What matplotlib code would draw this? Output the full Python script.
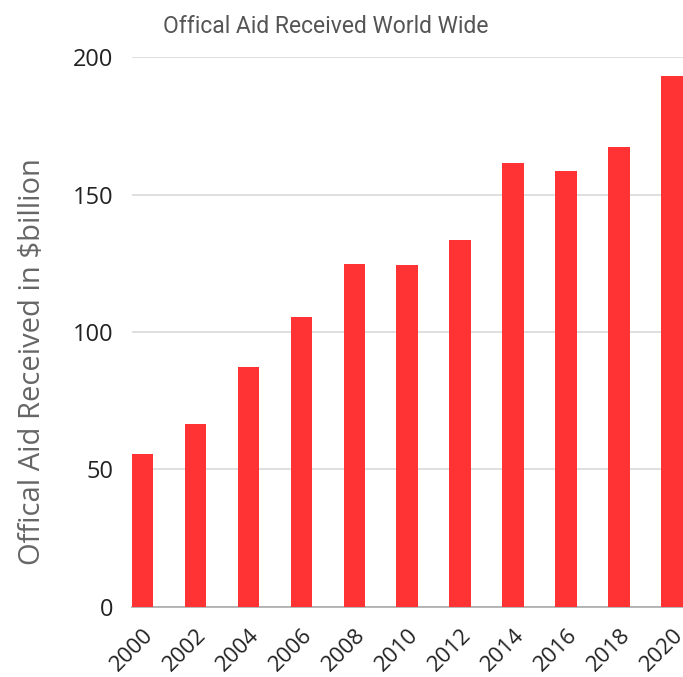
import matplotlib
matplotlib.use("Agg")
import matplotlib.pyplot as plt
import matplotlib.transforms as mtransforms

years = ["2000", "2002", "2004", "2006", "2008", "2010", "2012", "2014", "2016", "2018", "2020"]
aid = [55.5, 66.4, 87.1, 105.5, 124.7, 124.5, 133.3, 161.4, 158.6, 167.2, 193.2]
yticks = [0, 50, 100, 150, 200]

plt.rcParams['font.family'] = ['Open Sans', 'DejaVu Sans']

fig = plt.figure(figsize=(6.83, 6.77), dpi=100)
ax = fig.add_axes([131.7/683, 1-606.7/677, (683-131.7)/683, (606.7-57.1)/677])

x = list(range(len(years)))
ax.bar(x, aid, width=0.41, color='#FF3333', zorder=3)
ax.set_xlim(-0.205, len(years) - 1 + 0.205)
ax.set_ylim(0, 200)
ax.set_yticks(yticks)
ax.set_yticklabels([str(v) for v in yticks], fontsize=17, color='#222222')
ax.set_xticks(x)
ax.set_xticklabels(years, fontsize=16, color='#222222', rotation=45, ha='right', va='top',
                   rotation_mode='anchor')
offset = mtransforms.ScaledTranslation(5/100, 0, fig.dpi_scale_trans)
for lab in ax.get_xticklabels():
    lab.set_transform(lab.get_transform() + offset)
ax.tick_params(axis='both', length=0)
ax.tick_params(axis='y', pad=13)
ax.tick_params(axis='x', pad=13)
ax.grid(axis='y', color='#d9d9d9', linewidth=1.2, zorder=0)
for s in ['top', 'right', 'left']:
    ax.spines[s].set_visible(False)
ax.spines['bottom'].set_color('#aaaaaa')
ax.spines['bottom'].set_linewidth(1.2)
ax.set_axisbelow(True)

ax.set_ylabel(r"Offical Aid Received in \$billion", fontsize=21, color='#666666')
ax.yaxis.set_label_coords((47 - 131.7) / 551.3, (606.7 - 362) / 549.6)
fig.text(326/683, 1-33/677, "Offical Aid Received World Wide", fontsize=16.5, color='#555555',
         ha='center', va='baseline', family=['Roboto', 'DejaVu Sans'])

fig.savefig("out.png", dpi=100)
